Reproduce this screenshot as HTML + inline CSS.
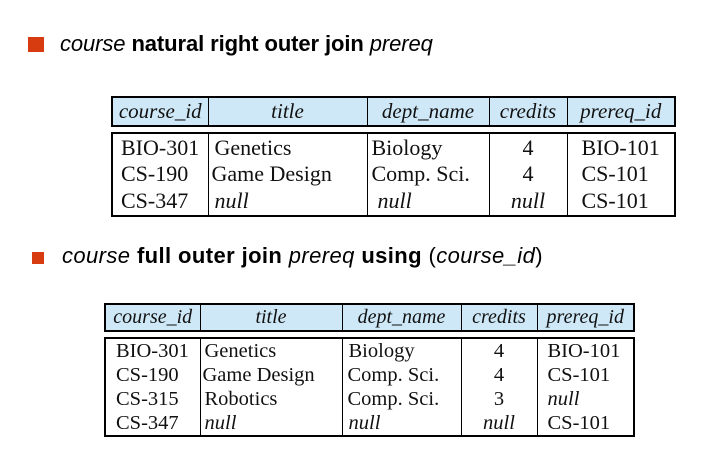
<!DOCTYPE html>
<html><head><meta charset="utf-8"><style>
body{margin:0;width:726px;height:464px;background:#fff;position:relative;overflow:hidden;font-family:"Liberation Serif",serif;}
.b{position:absolute;font-family:"Liberation Sans",sans-serif;color:#000;white-space:nowrap}
.sq{position:absolute;background:#d63c10}
table{position:absolute;border-collapse:collapse;table-layout:fixed;}
td{border-left:1.5px solid #000;padding:0;white-space:nowrap;color:#111;overflow:hidden}
td:first-child{border-left:none}
.h{background:#cfe8f7;border:2px solid #000;}
.h td{font-style:italic;text-align:center;}
.d{border:2px solid #000;}
.c{text-align:center}
i{font-style:italic}
</style></head><body>
<div class="sq" style="left:28px;top:37px;width:16px;height:15px"></div>
<div class="b" style="left:60px;top:31px;font-size:22px;letter-spacing:-0.1px"><i>course</i> <b>natural right outer join</b> <i>prereq</i></div>
<div class="sq" style="left:32px;top:252px;width:12px;height:12px"></div>
<div class="b" style="left:62px;top:243px;font-size:22px;letter-spacing:0.4px"><i>course</i> <b>full outer join</b> <i>prereq</i> <b>using</b> (<i>course_id</i>)</div>

<table class="h" style="left:111px;top:96px;width:563px;height:31px;font-size:21px">
<colgroup><col style="width:96px"><col style="width:159px"><col style="width:122px"><col style="width:78px"><col style="width:108px"></colgroup>
<tr><td>course_id</td><td>title</td><td>dept_name</td><td>credits</td><td>prereq_id</td></tr></table>
<table class="d" style="left:111px;top:132px;width:563px;height:85px;font-size:22px;line-height:26px">
<colgroup><col style="width:96px"><col style="width:159px"><col style="width:122px"><col style="width:78px"><col style="width:108px"></colgroup>
<tr><td style="padding-left:8px">BIO-301</td><td style="padding-left:6px">Genetics</td><td style="padding-left:4px">Biology</td><td class="c">4</td><td style="padding-left:14px">BIO-101</td></tr>
<tr><td style="padding-left:8px">CS-190</td><td style="padding-left:3px">Game Design</td><td style="padding-left:4px">Comp. Sci.</td><td class="c">4</td><td style="padding-left:14px">CS-101</td></tr>
<tr><td style="padding-left:8px">CS-347</td><td style="padding-left:6px"><i>null</i></td><td style="padding-left:10px"><i>null</i></td><td class="c"><i>null</i></td><td style="padding-left:14px">CS-101</td></tr></table>

<table class="h" style="left:104px;top:303px;width:529px;height:29px;font-size:20px">
<colgroup><col style="width:95px"><col style="width:142px"><col style="width:119px"><col style="width:76px"><col style="width:97px"></colgroup>
<tr><td>course_id</td><td>title</td><td>dept_name</td><td>credits</td><td>prereq_id</td></tr></table>
<table class="d" style="left:104px;top:337px;width:529px;height:99px;font-size:20.5px;line-height:24px">
<colgroup><col style="width:95px"><col style="width:142px"><col style="width:119px"><col style="width:76px"><col style="width:97px"></colgroup>
<tr><td style="padding-left:10px">BIO-301</td><td style="padding-left:4px">Genetics</td><td style="padding-left:6px">Biology</td><td class="c">4</td><td style="padding-left:10px">BIO-101</td></tr>
<tr><td style="padding-left:10px">CS-190</td><td style="padding-left:2px">Game Design</td><td style="padding-left:5px">Comp. Sci.</td><td class="c">4</td><td style="padding-left:10px">CS-101</td></tr>
<tr><td style="padding-left:10px">CS-315</td><td style="padding-left:4px">Robotics</td><td style="padding-left:5px">Comp. Sci.</td><td class="c">3</td><td style="padding-left:10px"><i>null</i></td></tr>
<tr><td style="padding-left:10px">CS-347</td><td style="padding-left:4px"><i>null</i></td><td style="padding-left:6px"><i>null</i></td><td class="c"><i>null</i></td><td style="padding-left:10px">CS-101</td></tr></table>
</body></html>
